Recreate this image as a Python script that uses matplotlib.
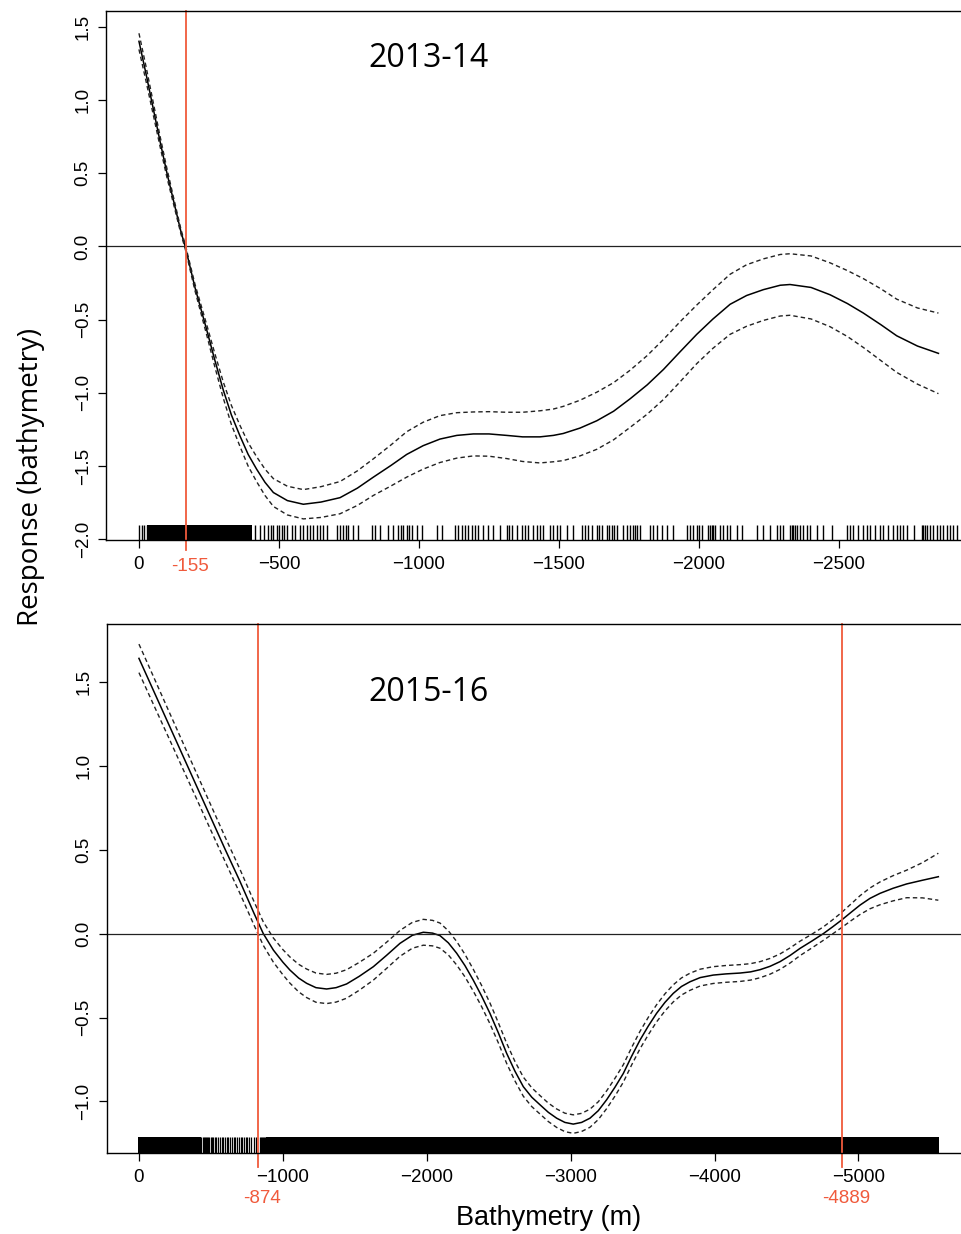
import matplotlib
matplotlib.use('Agg')
import matplotlib.pyplot as plt
import numpy as np
from matplotlib.transforms import blended_transform_factory

# ---------------- data: 2013-14 ----------------
depth_1314 = [0, -25, -50, -75, -100, -125, -150, -165, -200, -242, -270, -301, -330, -361,
              -390, -420, -450, -480, -530, -587, -650, -718, -780, -837, -900, -956, -1015,
              -1075, -1135, -1194, -1250, -1313, -1370, -1432, -1480, -1515, -1575, -1635,
              -1695, -1754, -1815, -1873, -1932, -1992, -2050, -2111, -2170, -2230, -2290,
              -2325, -2400, -2468, -2530, -2587, -2650, -2706, -2780, -2855]
fit_1314 = [1.40, 1.18, 0.95, 0.72, 0.50, 0.30, 0.10, 0.00, -0.28, -0.57, -0.77, -0.98, -1.15,
            -1.295, -1.42, -1.52, -1.61, -1.68, -1.735, -1.76, -1.745, -1.715, -1.65, -1.575,
            -1.495, -1.42, -1.36, -1.315, -1.29, -1.28, -1.28, -1.29, -1.30, -1.30, -1.29,
            -1.277, -1.24, -1.19, -1.125, -1.04, -0.945, -0.84, -0.72, -0.60, -0.495, -0.395,
            -0.335, -0.295, -0.265, -0.26, -0.28, -0.33, -0.39, -0.455, -0.535, -0.61, -0.68,
            -0.73]
se_1314 = [0.055, 0.05, 0.042, 0.035, 0.03, 0.022, 0.016, 0.015, 0.022, 0.035, 0.045, 0.055,
           0.065, 0.072, 0.08, 0.085, 0.09, 0.095, 0.098, 0.10, 0.105, 0.11, 0.118, 0.125, 0.14,
           0.155, 0.16, 0.16, 0.155, 0.15, 0.152, 0.158, 0.168, 0.178, 0.18, 0.185, 0.19, 0.195,
           0.195, 0.195, 0.20, 0.205, 0.205, 0.20, 0.20, 0.205, 0.21, 0.21, 0.21, 0.21, 0.215,
           0.218, 0.225, 0.235, 0.245, 0.25, 0.26, 0.275]
rug_dense_1314 = [-39, -47, -55, -63, -71, -79, -87, -95, -103, -111, -119, -127, -135, -143,
                  -151, -159, -167, -175, -183, -191, -199, -207, -219, -227, -235, -243, -251,
                  -259, -267, -275, -283, -291, -299, -307, -321, -329, -337, -345, -353, -369,
                  -377, -385, -393]
rug_sparse_1314 = [-1, -10, -18, -27, -414, -432, -446, -462, -470, -480, -492, -501, -510, -518,
                   -527, -545, -557, -575, -587, -599, -611, -623, -635, -646, -658, -670, -706,
                   -718, -730, -739, -748, -765, -783, -831, -843, -861, -890, -908, -926, -936,
                   -944, -956, -965, -974, -992, -1010, -1063, -1081, -1129, -1141, -1152,
                   -1164, -1176, -1188, -1200, -1212, -1230, -1248, -1266, -1289, -1313, -1323,
                   -1331, -1349, -1367, -1379, -1390, -1408, -1420, -1432, -1444, -1468, -1480,
                   -1492, -1504, -1527, -1551, -1581, -1593, -1605, -1617, -1635, -1644, -1652,
                   -1670, -1680, -1688, -1696, -1706, -1730, -1742, -1754, -1763, -1771, -1780,
                   -1789, -1825, -1837, -1849, -1867, -1885, -1908, -1956, -1968, -1980, -1992,
                   -2001, -2010, -2033, -2039, -2045, -2051, -2057, -2075, -2087, -2099, -2111,
                   -2135, -2152, -2206, -2230, -2254, -2277, -2289, -2301, -2325, -2331, -2337,
                   -2343, -2349, -2361, -2373, -2385, -2396, -2420, -2444, -2474, -2527, -2539,
                   -2551, -2569, -2587, -2599, -2611, -2629, -2646, -2658, -2676, -2694, -2706,
                   -2718, -2730, -2742, -2766, -2795, -2801, -2807, -2813, -2825, -2837, -2849,
                   -2861, -2873, -2885, -2896, -2908, -2920]
vline_1314 = [-167]
vlabel_1314 = ['-155']
xticks_1314 = [0, -500, -1000, -1500, -2000, -2500]
yticks_1314 = [-2.0, -1.5, -1.0, -0.5, 0.0, 0.5, 1.0, 1.5]

# ---------------- data: 2015-16 ----------------
depth_1516 = [0, -100, -200, -300, -400, -500, -600, -700, -800, -864, -934, -1000, -1049, -1110,
              -1165, -1230, -1304, -1370, -1443, -1530, -1629, -1720, -1814, -1900, -1976, -2040,
              -2092, -2150, -2208, -2265, -2323, -2380, -2439, -2497, -2555, -2613, -2671, -2730,
              -2787, -2845, -2903, -2960, -3018, -3076, -3134, -3192, -3250, -3308, -3366, -3424,
              -3482, -3540, -3597, -3655, -3713, -3770, -3829, -3900, -3991, -4080, -4177, -4250,
              -4316, -4385, -4455, -4525, -4594, -4675, -4756, -4820, -4883, -4950, -5011, -5080,
              -5150, -5240, -5335, -5445, -5555]
fit_1516 = [1.64, 1.45, 1.26, 1.07, 0.88, 0.69, 0.50, 0.315, 0.12, 0.0, -0.098, -0.17, -0.217,
            -0.265, -0.296, -0.322, -0.33, -0.322, -0.30, -0.255, -0.197, -0.13, -0.058, -0.01,
            0.008, 0.003, -0.012, -0.055, -0.117, -0.19, -0.277, -0.37, -0.475, -0.59, -0.713,
            -0.82, -0.912, -0.975, -1.02, -1.065, -1.10, -1.125, -1.135, -1.125, -1.10, -1.055,
            -0.99, -0.915, -0.833, -0.73, -0.634, -0.55, -0.475, -0.41, -0.356, -0.315, -0.287,
            -0.262, -0.247, -0.24, -0.235, -0.228, -0.215, -0.195, -0.167, -0.13, -0.088, -0.045,
            0.0, 0.04, 0.081, 0.128, 0.17, 0.21, 0.24, 0.27, 0.296, 0.318, 0.339]
se_1516 = [0.085, 0.083, 0.08, 0.078, 0.076, 0.075, 0.073, 0.072, 0.07, 0.07, 0.072, 0.075, 0.078,
           0.082, 0.085, 0.087, 0.087, 0.086, 0.085, 0.083, 0.08, 0.078, 0.077, 0.077, 0.077,
           0.076, 0.075, 0.072, 0.07, 0.067, 0.065, 0.063, 0.062, 0.06, 0.06, 0.058, 0.057,
           0.056, 0.055, 0.055, 0.055, 0.055, 0.055, 0.054, 0.054, 0.053, 0.053, 0.053, 0.052,
           0.052, 0.052, 0.052, 0.051, 0.051, 0.051, 0.051, 0.051, 0.05, 0.05, 0.05, 0.05, 0.049,
           0.048, 0.047, 0.046, 0.045, 0.043, 0.041, 0.04, 0.042, 0.045, 0.05, 0.056, 0.062,
           0.068, 0.075, 0.082, 0.105, 0.14]
rug_block_1516 = [-38, -85, -135, -185, -235, -285, -335, -380,
                  -925, -975, -1025, -1075, -1125, -1175, -1225, -1275, -1325, -1375, -1425,
                  -1475, -1525, -1575, -1625, -1675, -1725, -1775, -1825, -1875, -1925, -1975,
                  -2025, -2075, -2125, -2175, -2225, -2275, -2325, -2375, -2425, -2475, -2525,
                  -2575, -2625, -2675, -2725, -2775, -2825, -2875, -2925, -2975, -3025, -3075,
                  -3125, -3175, -3225, -3275, -3325, -3375, -3425, -3475, -3525, -3575, -3625,
                  -3675, -3725, -3775, -3825, -3875, -3925, -3975, -4025, -4075, -4125, -4175,
                  -4225, -4275, -4325, -4375, -4425, -4475, -4525, -4575, -4625, -4675, -4725,
                  -4775, -4825, -4875, -4925, -4975, -5025, -5075, -5125, -5175, -5225, -5275,
                  -5325, -5375, -5425, -5475, -5512]
rug_thin_1516 = [0, -410, -418, -426, -434, -442, -450, -458, -466, -474, -482, -490, -498, -506,
                 -514, -526, -538, -550, -562, -574, -586, -598, -610, -622, -634, -646, -658,
                 -670, -682, -694, -706, -718, -730, -742, -754, -766, -778, -800, -815, -838,
                 -846, -854, -862, -870, -878, -886, -894]
vline_1516 = [-825, -4888]
vlabel_1516 = ['-874', '-4889']
xticks_1516 = [0, -1000, -2000, -3000, -4000, -5000]
yticks_1516 = [-1.0, -0.5, 0.0, 0.5, 1.0, 1.5]

RED = '#f05a3c'
TICKFONT = ['Liberation Sans', 'DejaVu Sans']
TITLEFONT = ['Open Sans', 'DejaVu Sans']
TICKSIZE = 13.5

W, H = 961, 1234
fig = plt.figure(figsize=(W / 100, H / 100), dpi=100)


def panel(rect, depth, fit, se, rug_a, lw_a, rug_b, lw_b, vlines, vlabels, xticks, yticks,
          xlim, ylim, title, title_base, label_drop_pt, rug_h, vline_ext):
    ax = fig.add_axes(rect)
    d = np.array(depth, dtype=float)
    f = np.array(fit, dtype=float)
    s = np.array(se, dtype=float)
    ax.plot(d, f, color='black', lw=1.1)
    ax.plot(d, f + s, color='#222222', lw=1.0, dashes=(3.2, 2.2))
    ax.plot(d, f - s, color='#222222', lw=1.0, dashes=(3.2, 2.2))
    ax.axhline(0, color='#222222', lw=0.9)
    tr = blended_transform_factory(ax.transData, ax.transAxes)
    ax.vlines(rug_a, 0, rug_h, transform=tr, color='black', lw=lw_a, capstyle='butt',
              antialiased=False)
    ax.vlines(rug_b, 0, rug_h, transform=tr, color='black', lw=lw_b, capstyle='butt')
    for xv, lab in zip(vlines, vlabels):
        ax.axvline(xv, ymin=-vline_ext, ymax=1, color=RED, lw=1.3, clip_on=False)
        ax.annotate(lab, xy=(xv, 0), xycoords=tr, xytext=(3, -label_drop_pt),
                    textcoords='offset points', ha='center', va='baseline',
                    color=RED, fontsize=TICKSIZE, family=TICKFONT, annotation_clip=False)
    ax.set_xlim(*xlim)
    ax.set_ylim(*ylim)
    ax.set_xticks(xticks)
    ax.set_yticks(yticks)
    ax.set_xticklabels([('%d' % t).replace('-', '\u2212') for t in xticks])
    ax.set_yticklabels([('%.1f' % t).replace('-', '\u2212') for t in yticks])
    ax.tick_params(axis='both', direction='out', length=5.5, width=0.9, labelsize=TICKSIZE)
    ax.tick_params(axis='x', pad=6)
    ax.tick_params(axis='y', pad=5, labelrotation=90)
    for lab in ax.get_yticklabels():
        lab.set_va('center')
        lab.set_family(TICKFONT)
    for lab in ax.get_xticklabels():
        lab.set_family(TICKFONT)
    for sp in ax.spines.values():
        sp.set_linewidth(1.0)
    fig.text(428 / W, 1 - title_base / H, title, ha='center', va='baseline',
             fontsize=23, family=TITLEFONT)
    return ax


# top panel: pixel box left 106.2, right 989.4, top 11, bottom 540
panel([106.2 / W, 1 - 540 / H, (989.4 - 106.2) / W, 529 / H],
      depth_1314, fit_1314, se_1314, rug_dense_1314, 3.0, rug_sparse_1314, 1.0,
      vline_1314, vlabel_1314, xticks_1314, yticks_1314,
      (117, -3037), (-2.004, 1.607), '2013-14', 66.7, 22.0, 0.0284, 0.019)

# bottom panel: pixel box left 107, right 970, top 624.3, bottom 1153.3
panel([107 / W, 1 - 1153.3 / H, (970 - 107) / W, 529 / H],
      depth_1516, fit_1516, se_1516, rug_block_1516, 8.0, rug_thin_1516, 0.9,
      vline_1516, vlabel_1516, xticks_1516, yticks_1516,
      (222, -5775), (-1.309, 1.843), '2015-16', 701, 36.0, 0.030, 0.026)

fig.text(31 / W, 1 - 477 / H, 'Response (bathymetry)', rotation=90, ha='center', va='center',
         fontsize=20, family=TITLEFONT)
fig.text(549 / W, 1 - 1225 / H, 'Bathymetry (m)', ha='center', va='baseline',
         fontsize=19.5, family=TICKFONT)

fig.savefig('out.png', dpi=100)
